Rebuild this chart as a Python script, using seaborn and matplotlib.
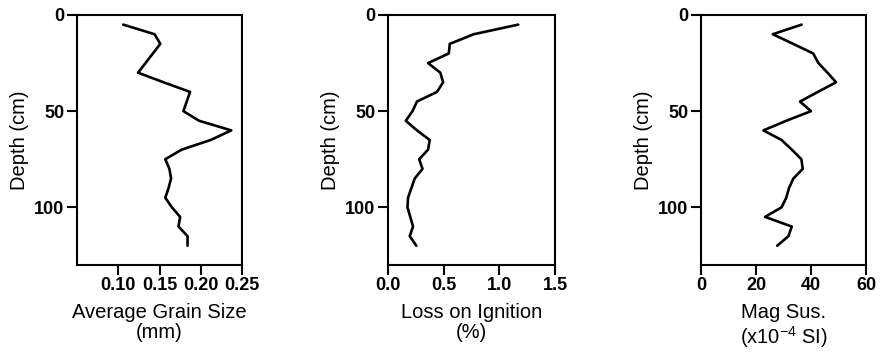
import matplotlib
matplotlib.use("Agg")
import matplotlib.pyplot as plt
import seaborn as sns
import pandas as pd

# Sample depths (cm) down the core
depth_cm = [5, 10, 15, 20, 25, 30, 35, 40, 45, 50, 55, 60,
            65, 70, 75, 80, 85, 90, 95, 100, 105, 110, 115, 120]

# Average grain size (mm)
grain_size = [0.106, 0.144, 0.151, 0.142, 0.133, 0.124, 0.155, 0.187,
              0.183, 0.179, 0.198, 0.237, 0.212, 0.177, 0.157, 0.162,
              0.164, 0.161, 0.157, 0.165, 0.175, 0.173, 0.184, 0.184]

# Loss on ignition (%)
loi = [1.17, 0.77, 0.555, 0.546, 0.36, 0.47, 0.495, 0.44, 0.26, 0.22,
       0.16, 0.26, 0.375, 0.36, 0.28, 0.31, 0.24, 0.21, 0.18, 0.175,
       0.20, 0.225, 0.195, 0.255]

# Magnetic susceptibility (x10^-4 SI)
mag_sus = [36.6, 26.1, 33.5, 40.8, 42.7, 46.0, 49.1, 42.5, 36.0, 40.0,
           31.0, 22.7, 29.3, 33.0, 36.5, 37.0, 33.6, 32.0, 31.0, 29.3,
           23.3, 33.0, 31.8, 27.7]

x_labels = ["Average Grain Size\n(mm)", "Loss on Ignition\n(%)",
            "Mag Sus.\n(x10$^{-4}$ SI)"]
x_limits = [(0.05, 0.25), (0.0, 1.5), (0, 60)]
x_ticks = [[0.10, 0.15, 0.20, 0.25], [0.0, 0.5, 1.0, 1.5], [0, 20, 40, 60]]
x_fmt = ["{:.2f}", "{:.1f}", "{:.0f}"]
y_ticks = [0, 50, 100]

sns.set_style("ticks")
plt.rcParams["font.family"] = ["Liberation Sans", "DejaVu Sans"]
plt.rcParams["mathtext.fontset"] = "custom"
plt.rcParams["mathtext.rm"] = "Liberation Sans"
plt.rcParams["mathtext.it"] = "Liberation Sans:italic"
for key in ["text.color", "axes.labelcolor", "xtick.color", "ytick.color",
            "axes.edgecolor"]:
    plt.rcParams[key] = "black"

fig = plt.figure(figsize=(8.8, 3.54), dpi=100)
lefts = [77, 388, 701]
widths = [165, 167, 165]
top_px, bot_px = 15, 265
W, H = 880, 354

series = [grain_size, loi, mag_sus]
for i, vals in enumerate(series):
    ax = fig.add_axes([lefts[i] / W, (H - bot_px) / H,
                       widths[i] / W, (bot_px - top_px) / H])
    df = pd.DataFrame({"value": vals, "depth": depth_cm})
    sns.lineplot(data=df, x="value", y="depth", orient="y", sort=False,
                 color="black", linewidth=1.9, ax=ax)
    ax.set_xlim(*x_limits[i])
    ax.set_ylim(130, 0)
    ax.set_xticks(x_ticks[i])
    ax.set_xticklabels([x_fmt[i].format(t) for t in x_ticks[i]],
                       fontweight="bold", fontsize=13)
    ax.set_yticks(y_ticks)
    ax.set_yticklabels([str(t) for t in y_ticks], fontweight="bold",
                       fontsize=13)
    ax.set_xlabel(x_labels[i], fontsize=14.5, labelpad=6, linespacing=1.1)
    ax.set_ylabel("Depth (cm)", fontsize=14.5, labelpad=4)
    for s in ax.spines.values():
        s.set_linewidth(1.5)
        s.set_color("black")
    ax.tick_params(axis="both", length=7, width=1.5, pad=2, colors="black")

fig.savefig("out.png", dpi=100, facecolor="white")
